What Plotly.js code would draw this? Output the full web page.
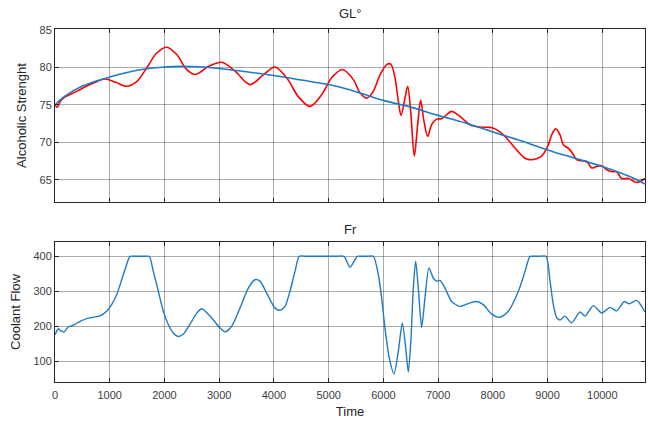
<!DOCTYPE html>
<html>
<head>
<meta charset="utf-8">
<script src="https://cdn.plot.ly/plotly-3.0.1.min.js"></script>
<style>html,body{margin:0;padding:0;background:#fff;}#chart{width:648px;height:423px;}</style>
</head>
<body>
<div id="chart"></div>
<script>
// GL° measured (red)
const tGL = [0,40,100,152,396,640,914,1096,1310,1492,1675,1858,2040,2223,2406,2570,2801,3045,3289,3563,3806,4019,4233,4446,4659,4873,5055,5250,5451,5573,5695,5816,5938,6060,6133,6212,6273,6322,6395,6444,6499,6565,6627,6681,6742,6809,6882,6973,7065,7156,7247,7399,7582,7765,7948,8040,8223,8405,8588,8710,8893,9014,9075,9148,9227,9288,9380,9452,9532,9623,9715,9806,9897,9989,10080,10172,10263,10354,10476,10628,10719,10780];
const vGL = [75.0,74.7,75.5,75.9,76.8,77.7,78.45,78.05,77.47,78.1,79.9,81.9,82.67,81.7,79.7,79.05,80.1,80.67,79.5,77.7,79.0,80.05,78.6,76.1,74.8,76.36,78.6,79.7,78.36,76.6,75.9,76.8,79.0,80.36,80.45,78.6,75.5,73.6,75.9,77.47,74.1,68.2,72.4,75.6,72.8,70.8,72.36,73.1,73.16,73.7,74.13,73.47,72.36,72.05,72.0,71.8,70.8,69.25,67.9,67.7,68.2,69.7,71.0,71.8,71.0,69.7,69.2,68.6,67.7,67.56,67.47,66.6,66.8,66.9,66.36,66.1,66.1,65.2,65.2,64.67,64.9,65.2];
// GL° fitted trend (blue)
const tFit = [0,150,500,1000,1500,2000,2500,3000,3500,4000,4500,5000,5500,6000,6500,7000,7500,8000,8500,9000,9500,10000,10500,10780];
const vFit = [75.0,76.0,77.5,78.7,79.6,80.05,80.1,79.85,79.4,78.9,78.3,77.7,76.75,75.6,74.7,73.6,72.6,71.4,70.25,69.0,67.9,66.8,65.45,64.45];
// Fr coolant flow
const tFr = [0,61,110,164,243,335,457,579,700,822,944,1035,1127,1218,1297,1370,1450,1550,1650,1723,1796,1888,1979,2070,2161,2253,2345,2467,2588,2680,2863,3015,3106,3228,3380,3532,3654,3745,3867,4019,4110,4202,4293,4385,4464,4600,4800,5000,5150,5281,5390,5524,5600,5700,5816,5907,5968,6029,6108,6194,6273,6346,6408,6456,6505,6547,6590,6638,6699,6760,6833,6912,6973,7034,7126,7247,7399,7582,7704,7826,7979,8131,8283,8466,8588,8679,8750,8850,8971,9045,9106,9167,9227,9318,9440,9592,9684,9836,9989,10141,10263,10402,10487,10628,10719,10780];
const vFr = [176,193,187,184,198,203,214,222,226,230,243,262,290,333,371,400,400,400,400,400,357,300,243,205,181,171,178,206,237,250,224,195,184,200,252,309,333,329,295,252,246,257,300,357,400,400,400,400,400,400,369,400,400,400,400,348,281,195,109,64,129,209,138,69,167,309,386,309,197,281,367,338,329,331,309,271,257,267,271,262,235,226,243,300,357,400,400,400,400,329,261,225,218,229,210,241,229,259,238,254,244,271,264,274,257,241];
const xTicks = [0,1000,2000,3000,4000,5000,6000,7000,8000,9000,10000];
const xTickText = ['0','1000','2000','3000','4000','5000','6000','7000','8000','9000','10000'];

const FONT = 'Liberation Sans, Arial, sans-serif';
const TXT = '#262626';
const axBase = {
  showline: true, mirror: 'ticks', linecolor: TXT, linewidth: 1,
  ticks: 'inside', ticklen: 4, tickcolor: TXT,
  showgrid: true, gridcolor: 'rgba(0,0,0,0.33)', gridwidth: 1,
  zeroline: false, tickfont: {family: FONT, size: 11, color: '#404040'}
};
const traces = [
  {x: tGL, y: vGL, type: 'scatter', mode: 'lines', line: {color: '#ff0000', width: 1.6, shape: 'spline', smoothing: 0.9}, xaxis: 'x', yaxis: 'y', hoverinfo: 'none'},
  {x: tFit, y: vFit, type: 'scatter', mode: 'lines', line: {color: '#1f7bc4', width: 1.6, shape: 'spline'}, xaxis: 'x', yaxis: 'y', hoverinfo: 'none'},
  {x: tFr, y: vFr, type: 'scatter', mode: 'lines', line: {color: '#1f7bc4', width: 1.4, shape: 'spline', smoothing: 0.7}, xaxis: 'x2', yaxis: 'y2', hoverinfo: 'none'}
];
const layout = {
  width: 648, height: 423,
  margin: {l: 55, r: 3, t: 29, b: 41},
  paper_bgcolor: '#fff', plot_bgcolor: '#fff',
  showlegend: false,
  font: {family: FONT, color: TXT},
  xaxis: Object.assign({}, axBase, {domain: [0, 1], range: [0, 10780], tickvals: xTicks, ticktext: xTickText, showticklabels: false, anchor: 'y'}),
  yaxis: Object.assign({}, axBase, {domain: [0.5099, 1], range: [62.07, 85.1], tickvals: [65,70,75,80,85], anchor: 'x',
    title: {text: 'Alcoholic Strenght', font: {family: FONT, size: 13, color: TXT}, standoff: 9}}),
  xaxis2: Object.assign({}, axBase, {domain: [0, 1], range: [0, 10780], tickvals: xTicks, ticktext: xTickText, anchor: 'y2', ticklabelstandoff: 3,
    title: {text: 'Time', font: {family: FONT, size: 13, color: TXT}, standoff: 6}}),
  yaxis2: Object.assign({}, axBase, {domain: [0, 0.3966], range: [40.9, 440.9], tickvals: [100,200,300,400], anchor: 'x2',
    title: {text: 'Coolant Flow', font: {family: FONT, size: 13, color: TXT}, standoff: 9}}),
  annotations: [
    {text: 'GL°', xref: 'paper', yref: 'paper', x: 0.5, y: 1, yshift: 6, yanchor: 'bottom', showarrow: false, font: {family: FONT, size: 13, color: TXT}},
    {text: 'Fr', xref: 'paper', yref: 'paper', x: 0.5, y: 0.3966, yshift: 3, yanchor: 'bottom', showarrow: false, font: {family: FONT, size: 13, color: TXT}}
  ]
};
Plotly.newPlot('chart', traces, layout, {staticPlot: true, displayModeBar: false});
</script>
</body>
</html>
